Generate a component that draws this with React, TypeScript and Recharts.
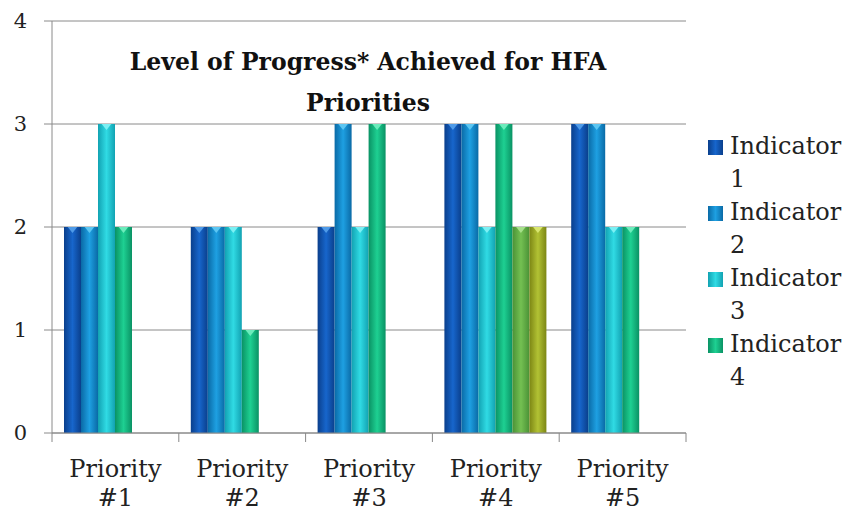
import React from 'react';
import { BarChart, Bar, XAxis, YAxis, CartesianGrid } from 'recharts';

const categories = ['Priority #1', 'Priority #2', 'Priority #3', 'Priority #4', 'Priority #5'];
const indicator1 = [2, 2, 2, 3, 3];
const indicator2 = [2, 2, 3, 3, 3];
const indicator3 = [3, 2, 2, 2, 2];
const indicator4 = [2, 1, 3, 3, 2];
const indicator5 = [null, null, null, 2, null];
const indicator6 = [null, null, null, 2, null];
const seriesNames = ['Indicator 1', 'Indicator 2', 'Indicator 3', 'Indicator 4', 'Indicator 5', 'Indicator 6'];
const legendNames = ['Indicator 1', 'Indicator 2', 'Indicator 3', 'Indicator 4'];
const yTicks = [0, 1, 2, 3, 4];

const seriesValues = [indicator1, indicator2, indicator3, indicator4, indicator5, indicator6];
const data = categories.map((c, i) => {
  const row: any = { name: c };
  seriesValues.forEach((s, k) => { row['i' + (k + 1)] = s[i]; });
  return row;
});

const palette = [
  { dark: '#0a3f8c', light: '#1766cc', cap: '#4f9be8', sw: '#1358b8' },
  { dark: '#0a6aa6', light: '#1ea0e2', cap: '#5cc6f2', sw: '#1589c8' },
  { dark: '#12a2b2', light: '#30dbe4', cap: '#7cf0f4', sw: '#20c2d0' },
  { dark: '#0a9264', light: '#1ed092', cap: '#6cecbc', sw: '#14b37c' },
  { dark: '#4a9236', light: '#74c052', cap: '#a6e08a', sw: '#5eaa44' },
  { dark: '#7c8614', light: '#b2c234', cap: '#d8e670', sw: '#99a622' },
];

const FONT = '"DejaVu Serif", serif';
const PLOT_LEFT = 52;
const PLOT_RIGHT = 686;
const BAND = (PLOT_RIGHT - PLOT_LEFT) / categories.length;

const makeShape = (k: number) => (props: any) => {
  const { x, y, width, height } = props;
  if (height == null || height <= 0 || width <= 0) return null;
  const p = palette[k];
  return (
    <g>
      <rect x={x} y={y} width={width} height={height} fill={`url(#grad${k})`} />
      <polygon
        points={`${x + width * 0.22},${y} ${x + width * 0.78},${y} ${x + width / 2},${y + 6}`}
        fill={p.cap}
      />
    </g>
  );
};

const XTick = (props: any) => {
  const { x, y, payload, index } = props;
  const parts = String(payload.value).split(' ');
  return (
    <g>
      <line x1={x - BAND / 2} y1={y - 8} x2={x - BAND / 2} y2={y + 1} stroke="#888" />
      {index === categories.length - 1 && (
        <line x1={x + BAND / 2} y1={y - 8} x2={x + BAND / 2} y2={y + 1} stroke="#888" />
      )}
      <text x={x} y={y + 36} textAnchor="middle" fontFamily={FONT} fontSize={24} fill="#222">
        {parts[0]}
      </text>
      <text x={x} y={y + 65} textAnchor="middle" fontFamily={FONT} fontSize={24} fill="#222">
        {parts[1]}
      </text>
    </g>
  );
};

const LegendBox = () => (
  <div style={{ position: 'absolute', left: 708, top: 130, fontFamily: FONT, fontSize: 24, color: '#222' }}>
    {legendNames.map((n, k) => {
      const [a, b] = n.split(' ');
      const p = palette[k];
      return (
        <div key={n} style={{ position: 'relative', height: 66, paddingLeft: 22 }}>
          <div
            style={{
              position: 'absolute', left: 0, top: 10, width: 15, height: 15,
              background: `linear-gradient(to right, ${p.dark}, ${p.light}, ${p.dark})`,
            }}
          />
          <div style={{ lineHeight: '33px' }}>{a}</div>
          <div style={{ lineHeight: '33px' }}>{b}</div>
        </div>
      );
    })}
  </div>
);

export default function App() {
  return (
    <div style={{ position: 'absolute', left: 0, top: 0, width: 846, height: 516, background: '#fff' }}>
      <BarChart
        width={846}
        height={516}
        data={data}
        margin={{ top: 21, right: 846 - PLOT_RIGHT, bottom: 0, left: 0 }}
        barCategoryGap={12}
        barGap={0}
      >
        <defs>
          {palette.map((p, k) => (
            <linearGradient key={k} id={`grad${k}`} x1="0" y1="0" x2="1" y2="0">
              <stop offset="0%" stopColor={p.dark} />
              <stop offset="50%" stopColor={p.light} />
              <stop offset="100%" stopColor={p.dark} />
            </linearGradient>
          ))}
        </defs>
        <CartesianGrid vertical={false} stroke="#8a8a8a" />
        <XAxis
          dataKey="name"
          height={83}
          stroke="#8a8a8a"
          tickLine={false}
          interval={0}
          tick={<XTick />}
        />
        <YAxis
          width={PLOT_LEFT}
          domain={[0, 4]}
          ticks={yTicks}
          stroke="#8a8a8a"
          tickSize={8}
          tickMargin={17}
          tick={{ fontFamily: FONT, fontSize: 21, fill: '#222' }}
        />
        {seriesNames.map((n, k) => (
          <Bar
            key={n}
            dataKey={'i' + (k + 1)}
            name={n}
            fill={palette[k].sw}
            shape={makeShape(k)}
            isAnimationActive={false}
          />
        ))}
      </BarChart>
      <LegendBox />
      <div
        style={{
          position: 'absolute', left: 98, top: 42, width: 540, textAlign: 'center',
          fontFamily: FONT, fontWeight: 'bold', fontSize: 23.5, lineHeight: '41px', color: '#111',
        }}
      >
        Level of Progress* Achieved for HFA
        <br />
        Priorities
      </div>
    </div>
  );
}
